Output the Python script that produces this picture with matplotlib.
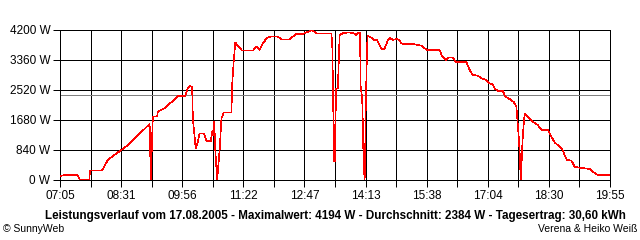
import matplotlib
matplotlib.use("Agg")
import matplotlib.pyplot as plt
from matplotlib.ticker import FixedLocator

# time in minutes after midnight, power in W
minutes = [426, 431, 445, 447, 450, 453, 466, 467, 482, 485, 492, 504, 511, 520,
           550.5, 551, 551.5, 552, 553.5, 555, 561, 562, 571.5, 576, 583, 590, 600,
           604, 606.5, 610, 611, 615, 618, 620.5, 626.5, 630, 636, 638, 639, 641,
           642.5, 645, 646, 648.5, 651, 654.5, 665, 666, 668.5, 670.5, 675, 680, 695,
           700, 704.5, 709, 715, 719, 730, 735, 746.5, 751, 756, 765, 770, 778, 784,
           805, 806.5, 807, 808, 808.5, 809.3, 810, 810.7, 811.4, 814, 816.5, 821,
           828, 836.5, 840, 843, 845, 846, 848, 849, 850, 851.5, 852.5, 853, 854.5,
           855.5, 861, 864.5, 869, 872.5, 875, 879.5, 883, 886.5, 891, 896, 899.5,
           903, 907.5, 921.5, 931, 935.5, 939, 956.5, 959, 966, 969, 975, 978.5, 994,
           998.5, 1003, 1010, 1015, 1022, 1026.5, 1031, 1033.5, 1038, 1045, 1048.5,
           1054.5, 1060.5, 1064, 1065, 1067, 1068.5, 1070, 1071, 1072, 1073, 1075.5,
           1080, 1087, 1094, 1099, 1108, 1113, 1117.5, 1124.5, 1128, 1131.5, 1135,
           1141, 1145.5, 1152.5, 1166.5, 1171, 1178, 1194.5]
power = [112, 140, 150, 150, 120, 0, 0, 261, 261, 308, 560, 746, 840, 980,
         1568, 952, 616, 0, 887, 1773, 1773, 1913, 2007, 2100, 2212, 2352, 2352,
         2586, 2632, 2600, 1727, 887, 1073, 1307, 1307, 1092, 1092, 1353, 1260, 1633,
         793, 0, 233, 840, 1727, 1895, 1895, 2660, 3407, 3855, 3733, 3621, 3621,
         3733, 3640, 3827, 3985, 4013, 4013, 3939, 3939, 4013, 4088, 4088, 4135, 4194, 4107,
         4107, 3640, 2567, 1540, 513, 1540, 513, 1540, 2567, 2567, 4060, 4107,
         4135, 4107, 4060, 4135, 4135, 2567, 2333, 1540, 513, 0, 1100, 2007, 3360,
         4032, 3985, 3920, 3920, 3780, 3668, 3668, 3873, 3985, 3920, 3948, 3920,
         3827, 3800, 3800, 3761, 3687, 3640, 3640, 3500, 3360, 3435, 3435, 3313, 3295,
         3080, 2940, 2921, 2847, 2800, 2707, 2679, 2567, 2492, 2492, 2333,
         2268, 2175, 2053, 1773, 1260, 793, 0, 327, 887, 1260, 1867,
         1773, 1633, 1540, 1400, 1400, 1213, 1055, 933, 868, 700, 560,
         541, 373, 345, 308, 233, 140, 140]

average = 2384
start_min = 425   # 07:05
end_min = 1195    # 19:55
x_labels = ["07:05", "08:31", "09:56", "11:22", "12:47",
            "14:13", "15:38", "17:04", "18:30", "19:55"]
y_max = 4200
y_step = 840

title = ("Leistungsverlauf vom 17.08.2005 - Maximalwert: 4194 W - "
         "Durchschnitt: 2384 W - Tagesertrag: 30,60 kWh")

plt.rcParams['font.family'] = ['Liberation Sans', 'DejaVu Sans']

LW = 0.72  # one pixel at 100 dpi

fig = plt.figure(figsize=(6.4, 2.4), dpi=100)
ax = fig.add_axes([60 / 640, 1 - 180 / 240, 550 / 640, 150 / 240])

ax.plot(minutes, power, color='#ff0000', lw=0.45, antialiased=False, zorder=3)
ax.axhline(average, color='#808080', lw=LW, antialiased=False, zorder=2)

ax.set_xlim(start_min, end_min)
ax.set_ylim(0, y_max)

n_grid = 2 * (len(x_labels) - 1)
grid_x = [start_min + i * (end_min - start_min) / n_grid for i in range(n_grid + 1)]
ax.xaxis.set_major_locator(FixedLocator(grid_x))
ax.set_xticklabels([x_labels[i // 2] if i % 2 == 0 else "" for i in range(n_grid + 1)])
yt = list(range(0, y_max + 1, y_step))
ax.set_yticks(yt)
ax.set_yticklabels(["{0} W".format(v) for v in yt])

ax.grid(True, color='black', lw=LW, antialiased=False)
ax.set_axisbelow(True)
ax.tick_params(length=5, width=LW, color='black', labelsize=8.5, pad=2)
for s in ax.spines.values():
    s.set_linewidth(LW)
    s.set_antialiased(False)

fig.text(335 / 640, 1 - 216 / 240, title, ha='center', va='center',
         fontsize=8.4, fontweight='bold')
fig.text(3 / 640, 1 - 229 / 240, "\u00a9 SunnyWeb", ha='left', va='center', fontsize=7.5)
fig.text(637 / 640, 1 - 229 / 240, "Verena & Heiko Wei\u00df", ha='right', va='center',
         fontsize=7.5)

fig.savefig("out.png", dpi=100, facecolor='white')
